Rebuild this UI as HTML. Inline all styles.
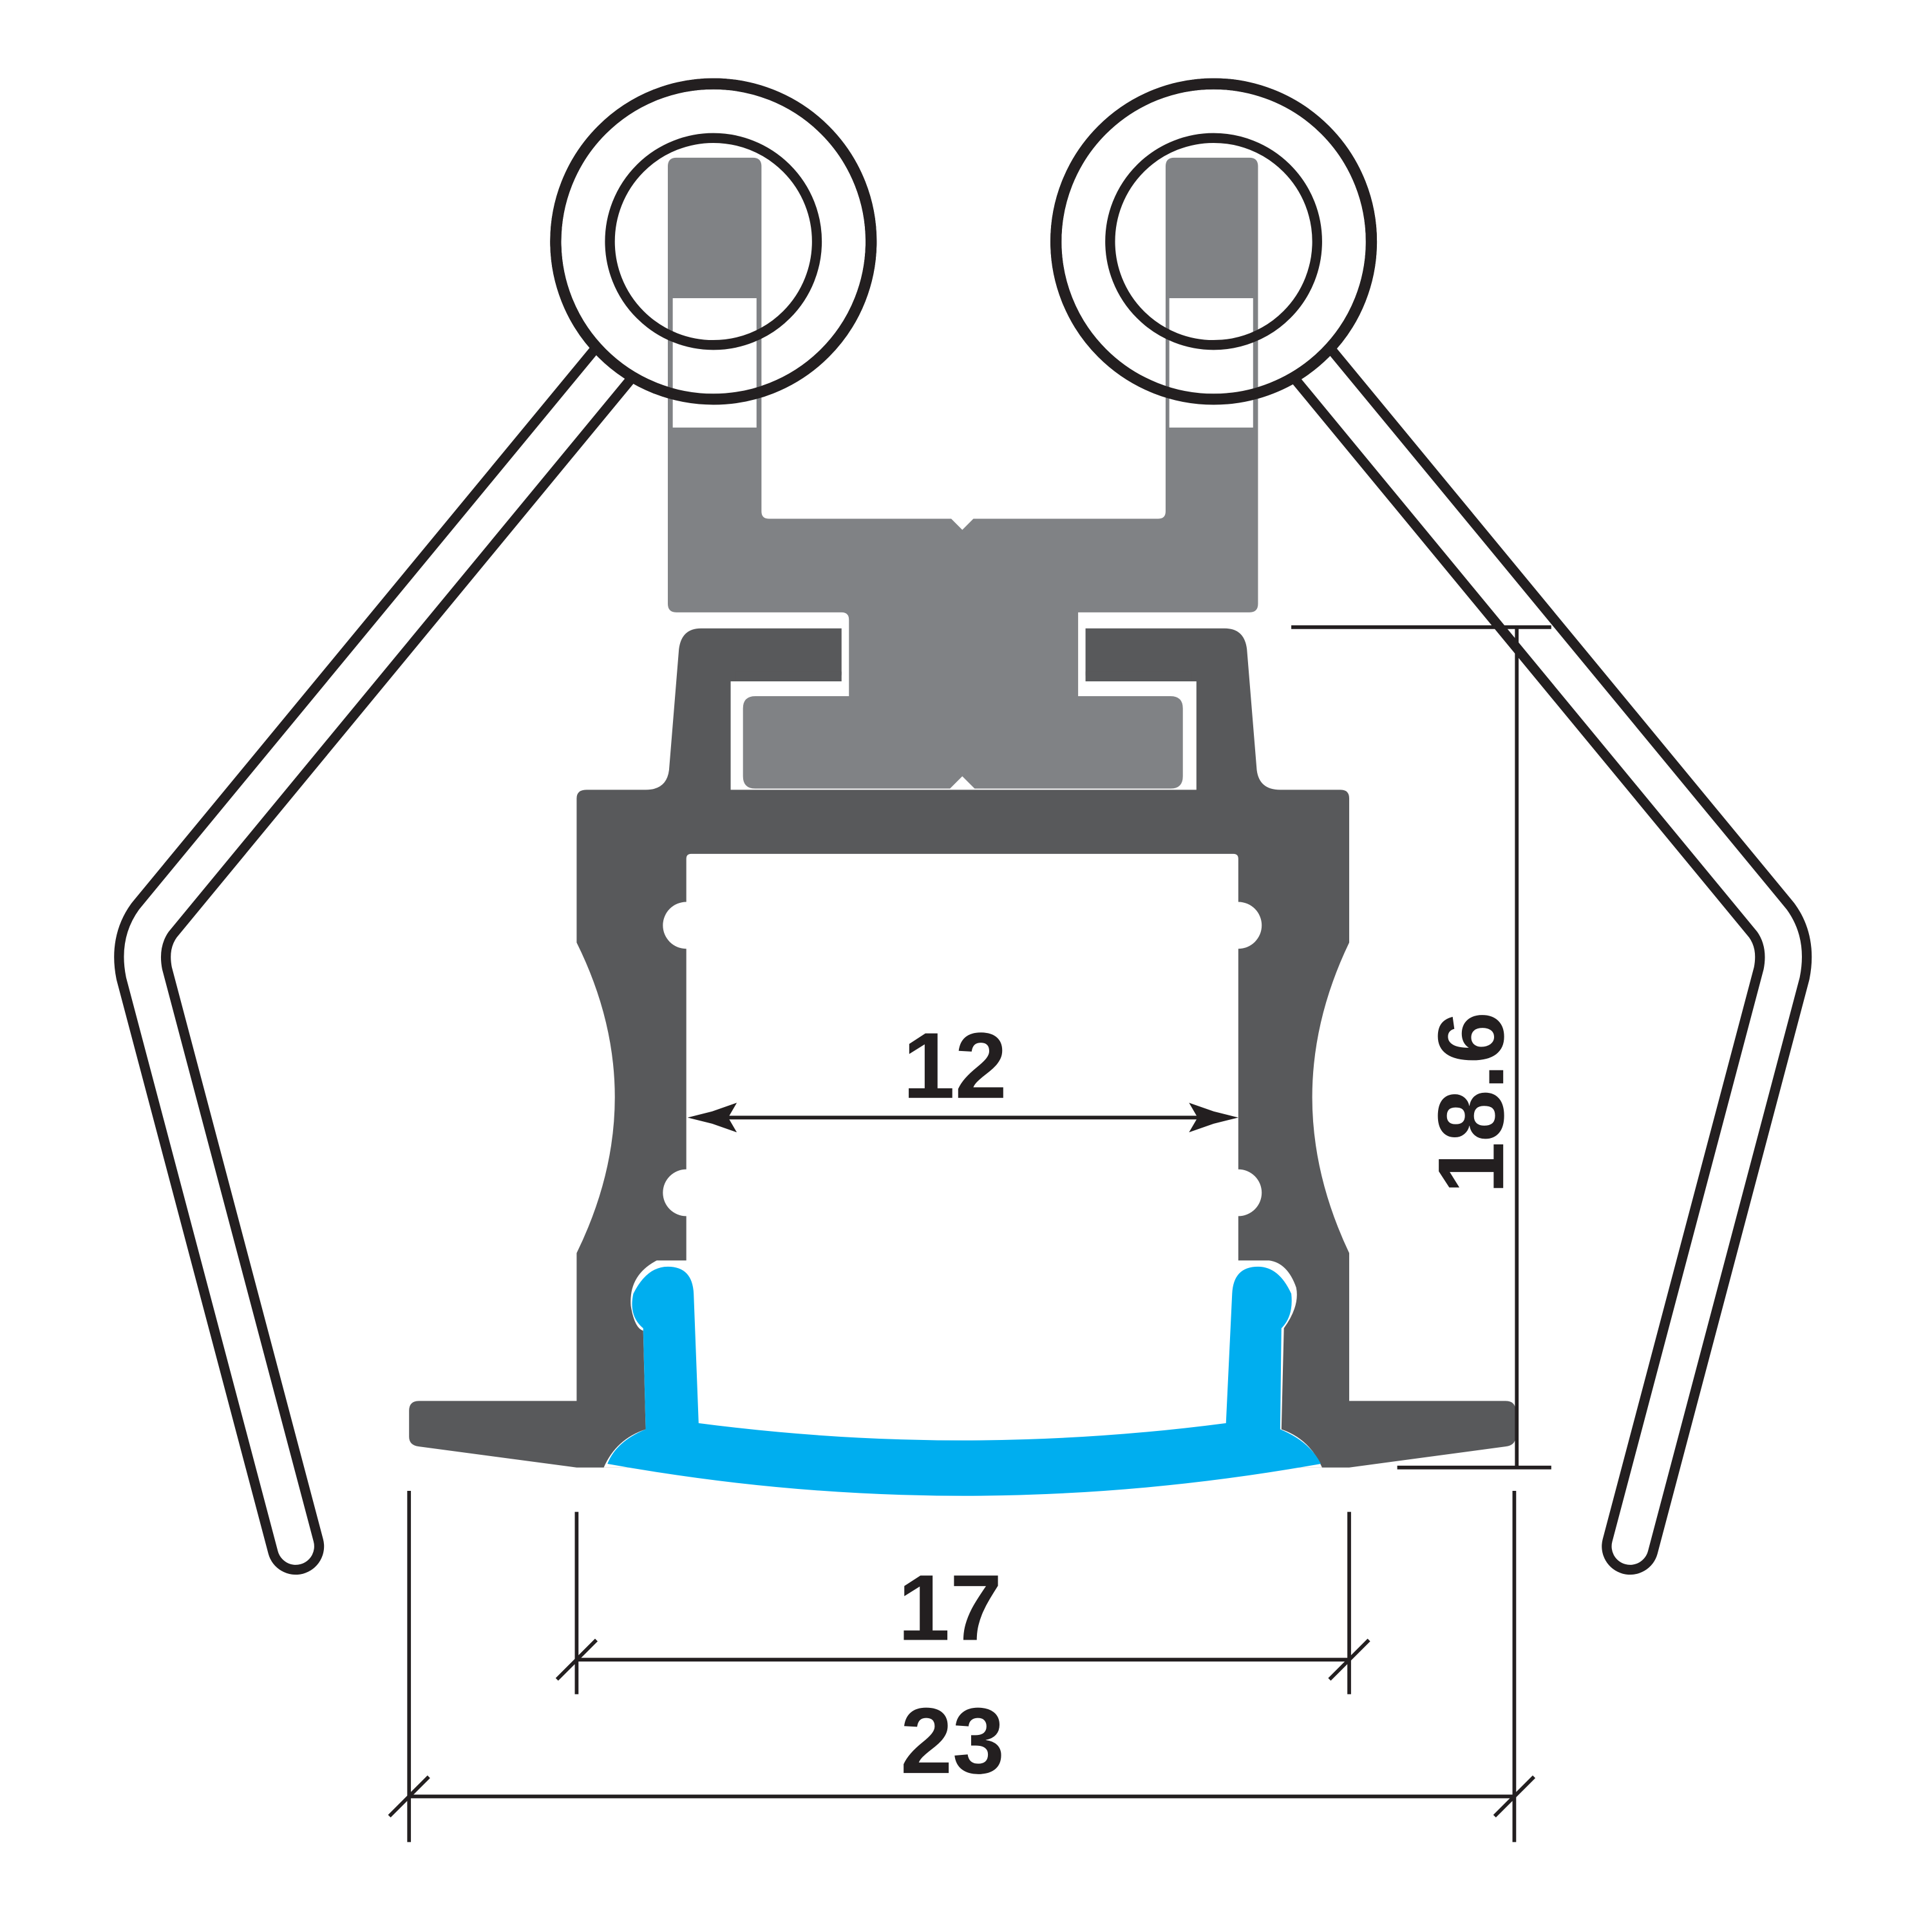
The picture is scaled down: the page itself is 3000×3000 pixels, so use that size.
<!DOCTYPE html>
<html><head><meta charset="utf-8"><style>html,body{margin:0;padding:0;background:#fff}svg{display:block}</style></head>
<body>
<svg xmlns="http://www.w3.org/2000/svg" width="3000" height="3000" viewBox="0 0 1568 1568">
<rect width="1568" height="1568" fill="#fff"/>
<g fill="none" stroke-linejoin="round" stroke-linecap="round">
<path d="M497,296 L125,747 Q112,765 117,790 L240,1255" stroke="#231f20" stroke-width="46"/>
<path d="M497,296 L125,747 Q112,765 117,790 L240,1255" stroke="#fff" stroke-width="30"/>
<path d="M1066,296 L1438,747 Q1451,765 1446,790 L1323,1255" stroke="#231f20" stroke-width="46"/>
<path d="M1066,296 L1438,747 Q1451,765 1446,790 L1323,1255" stroke="#fff" stroke-width="30"/>
</g>
<circle cx="579" cy="196" r="128" fill="#fff" stroke="#231f20" stroke-width="9"/>
<circle cx="985" cy="196" r="128" fill="#fff" stroke="#231f20" stroke-width="9"/>
<path fill="#58595b" d="M468,648 Q468,641 476,641 L524,641 Q541,641 543,625 L551,527 Q553,510 569,510 L994,510 Q1010,510 1012,527 L1020,625 Q1022,641 1039,641 L1088,641 Q1095,641 1095,648 L1095,765 Q1035,890 1095,1017 L1095,1137 L1222,1137 Q1230,1137 1230,1145 L1230,1166 Q1230,1173 1222,1174 L1095,1191 L468,1191 L340,1174 Q332,1173 332,1166 L332,1145 Q332,1137 340,1137 L468,1137 L468,1017 Q530,890 468,765 Z"/>
<path fill="#fff" d="M683,497 L881,497 L881,553 L971,553 L971,641 L593,641 L593,553 L683,553 Z"/>
<path fill="#58595b" d="M683,510 L683,547 Q683,553 677,553 L597,553 L597,545 L683,545Z"/>
<path fill="#58595b" d="M881,510 L881,547 Q881,553 887,553 L967,553 L967,545 L881,545Z"/>
<path fill="#fff" d="M557,697 L557,732 A19 19 0 0 0 557,770 L557,949 A19 19 0 0 0 557,987 L557,1023 L533,1023 Q510,1035 512,1060 Q515,1078 522,1080 L524,1160 Q500,1168 490,1191 L1073,1191 Q1063,1168 1040,1160 L1042,1078 Q1055,1060 1052,1045 Q1045,1025 1030,1023 L1005,1023 L1005,987 A19 19 0 0 0 1005,949 L1005,770 A19 19 0 0 0 1005,732 L1005,697 Q1005,693 1001,693 L561,693 Q557,693 557,697 Z"/>
<path fill="#808285" d="M542,135 Q542,128 549,128 L611,128 Q618,128 618,135 L618,415 Q618,421 624,421 L772,421 L781,430 L790,421 L940,421 Q946,421 946,415 L946,135 Q946,128 953,128 L1014,128 Q1021,128 1021,135 L1021,490 Q1021,497 1014,497 L875,497 L875,565 L950,565 Q960,565 960,575 L960,630 Q960,640 950,640 L791,640 L781,630 L771,640 L613,640 Q603,640 603,630 L603,575 Q603,565 613,565 L689,565 L689,503 Q689,497 683,497 L549,497 Q542,497 542,490 Z"/>
<rect x="545" y="241" width="70" height="107" fill="#fff" stroke="#808285" stroke-width="2"/>
<rect x="948" y="241" width="70" height="107" fill="#fff" stroke="#808285" stroke-width="2"/>
<circle cx="579" cy="196" r="128" fill="none" stroke="#231f20" stroke-width="9"/>
<circle cx="985" cy="196" r="128" fill="none" stroke="#231f20" stroke-width="9"/>
<circle cx="579" cy="196" r="84" fill="none" stroke="#231f20" stroke-width="8"/>
<circle cx="985" cy="196" r="84" fill="none" stroke="#231f20" stroke-width="8"/>
<path fill="#00aeef" d="M493,1188 Q500,1170 524,1160 L522,1078 Q510,1068 514,1050 Q525,1028 542,1028 Q562,1028 563,1050 L567,1155 Q781,1183 995,1155 L1000,1050 Q1001,1028 1021,1028 Q1038,1028 1048,1050 Q1050,1068 1040,1078 L1039,1160 Q1063,1170 1072,1188 Q781,1240 493,1188 Z"/>
<g stroke="#231f20" stroke-width="3" fill="none">
<line x1="590" y1="907" x2="973" y2="907"/>
<line x1="1048" y1="509" x2="1259" y2="509"/>
<line x1="1134" y1="1191" x2="1259" y2="1191"/>
<line x1="1231" y1="509" x2="1231" y2="1191"/>
<line x1="468" y1="1227" x2="468" y2="1375"/>
<line x1="1095" y1="1227" x2="1095" y2="1375"/>
<line x1="468" y1="1347" x2="1095" y2="1347"/>
<line x1="452" y1="1363" x2="484" y2="1331"/>
<line x1="1079" y1="1363" x2="1111" y2="1331"/>
<line x1="332" y1="1210" x2="332" y2="1495"/>
<line x1="1229" y1="1210" x2="1229" y2="1495"/>
<line x1="332" y1="1458" x2="1229" y2="1458"/>
<line x1="316" y1="1474" x2="348" y2="1442"/>
<line x1="1213" y1="1474" x2="1245" y2="1442"/>
</g>
<path fill="#231f20" d="M558,907 L578,902 L598,895 L591,907 L598,919 L578,912 Z"/>
<path fill="#231f20" d="M1005,907 L985,902 L965,895 L972,907 L965,919 L985,912 Z"/>
<g font-family="'Liberation Sans',sans-serif" font-weight="bold" font-size="76" fill="#231f20" text-anchor="middle">
<text x="775" y="891">12</text>
<text x="771" y="1331">17</text>
<text x="773" y="1439">23</text>
<text transform="translate(1220,895) rotate(-90)">18.6</text>
</g>
</svg>
</body></html>
